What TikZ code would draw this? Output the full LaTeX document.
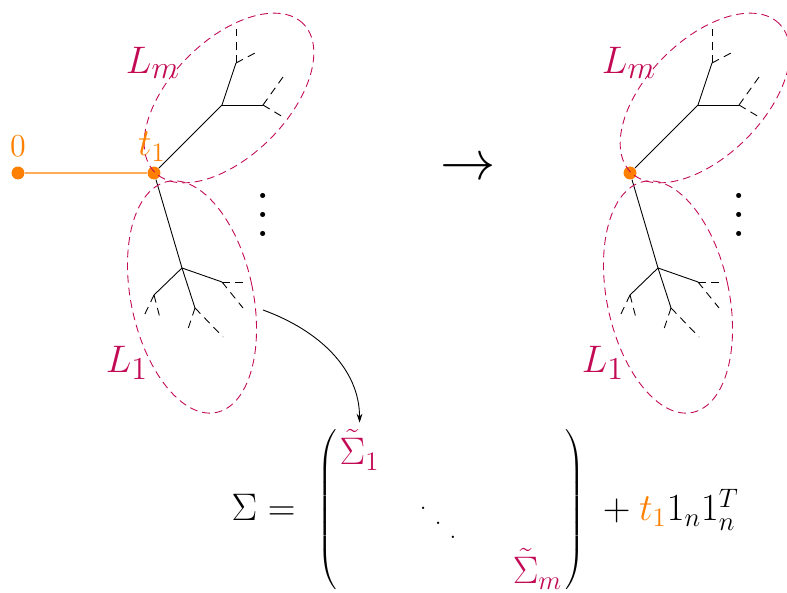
\documentclass[tikz,border=0pt]{standalone}
\usepackage{amsmath,amssymb}
\usepackage{graphicx}
\usepackage{xcolor}
\usepackage{tikz}
\usetikzlibrary{
  arrows.meta,
  positioning,
  matrix
}
\definecolor{blockpurple}{RGB}{195,10,85}
\newcommand{\wideddots}{\mathinner{\kern0.55pt\raise13pt\hbox{.}\kern3.9pt\raise6.5pt\hbox{.}\kern3.9pt\hbox{.}\kern7.7pt}}
\tikzset{
  treeedge/.style={draw=black,thin},
  leafedge/.style={draw=black,thin,dash pattern=on 3.5pt off 2.5pt},
  blockellipse/.style={draw=blockpurple,thin,dash pattern=on 3.5pt off 2.2pt},
  blocklabel/.style={text=blockpurple,font=\fontsize{19}{23}\selectfont},
  splitdot/.style={circle,fill=orange,inner sep=0pt,minimum size=5.8pt},
  rootedge/.style={draw=orange!65,line width=0.6pt},
  eqfont/.style={font=\fontsize{16.5}{20}\selectfont},
  eqtext/.style={eqfont,inner sep=0pt},
  mapsarrow/.style={-{Stealth[length=4pt,width=2.6pt]},thin,shorten >=3pt},
  splittree/.pic={
    \node[splitdot] (-t1) at (0,0) {};
    % upper block
    \coordinate (-um) at (68,68);
    \coordinate (-ua) at (82,110);
    \coordinate (-ub) at (109,68);
    \draw[treeedge] (-t1) -- (-um) -- (-ua);
    \draw[treeedge] (-um) -- (-ub);
    \draw[leafedge] (-ua) -- (82,149);
    \draw[leafedge] (-ua) -- (103,121);
    \draw[leafedge] (-ub) -- (129,96);
    \draw[leafedge] (-ub) -- (129,56);
    % lower block
    \coordinate (-lm) at (28,-95);
    \coordinate (-la) at (68,-109);
    \coordinate (-lb) at (0,-122);
    \coordinate (-lc) at (41,-135);
    \draw[treeedge] (-t1) -- (-lm) -- (-lc);
    \draw[treeedge] (-lm) -- (-la);
    \draw[treeedge] (-lm) -- (-lb);
    \draw[leafedge] (-la) -- (94,-109);
    \draw[leafedge] (-la) -- (89,-135);
    \draw[leafedge] (-lb) -- (-11,-145);
    \draw[leafedge] (-lb) -- (6,-145);
    \draw[leafedge] (-lc) -- (33,-159);
    \draw[leafedge] (-lc) -- (69,-164);
    % blocks
    \draw[blockellipse] (75,75) ellipse [x radius=105,y radius=58,rotate=45];
    \draw[blockellipse] (38,-124) ellipse [x radius=61,y radius=118,rotate=12];
    \node[blocklabel] (-lmlabel) at (-1,110) {$L_m$};
    \node[blocklabel] (-l1label) at (-27,-190) {$L_1$};
    \node (-blockdots) at (109,-28) {\scalebox{2.15}{$\vdots$}};
  }
}

\begin{document}
\begin{tikzpicture}[x=0.45pt,y=0.45pt]
  \useasboundingbox (0,0) rectangle (787,592);

  % tree before the split
  \node[splitdot] (zero) at (18,419) {};
  \node[text=orange,font=\Large] (zerolabel) at (18,446) {$0$};
  \pic (lefttree) at (154,419) {splittree};
  \node[text=orange,font=\LARGE] (tlabel) at (152,445) {$t_1$};
  \draw[rootedge] (zero) -- (lefttree-t1);

  \node[font=\Huge] (maps) at (468,423) {$\rightarrow$};

  % tree after the split
  \pic (righttree) at (630,419) {splittree};

  % covariance
  \matrix (covmat) [matrix of math nodes,left delimiter=(,right delimiter=),
    every left delimiter/.style={xshift=-0.8pt},every right delimiter/.style={xshift=2.5pt},
    inner sep=0pt,nodes={eqfont,inner sep=0pt},column sep=17.8pt,row sep=4.4pt] at (451,82.5) {
    |[text=blockpurple]| \tilde{\Sigma}_1 & & \\[12.3pt]
    & |[font=\normalsize]| \wideddots & \\
    & & |[text=blockpurple]| \tilde{\Sigma}_m \\
  };
  \node[eqtext,anchor=base east] (sigmalhs) at (296,71) {$\Sigma =$};
  \node[eqtext,anchor=base west] (sigmarhs) at (594,71) {${}+{}{\color{orange}t_1} 1_n 1_n^T$};

  \coordinate (lowerexit) at (263,282);
  \draw[mapsarrow] (lowerexit) to[out=-20,in=90] (covmat-1-1.north);
\end{tikzpicture}
\end{document}
